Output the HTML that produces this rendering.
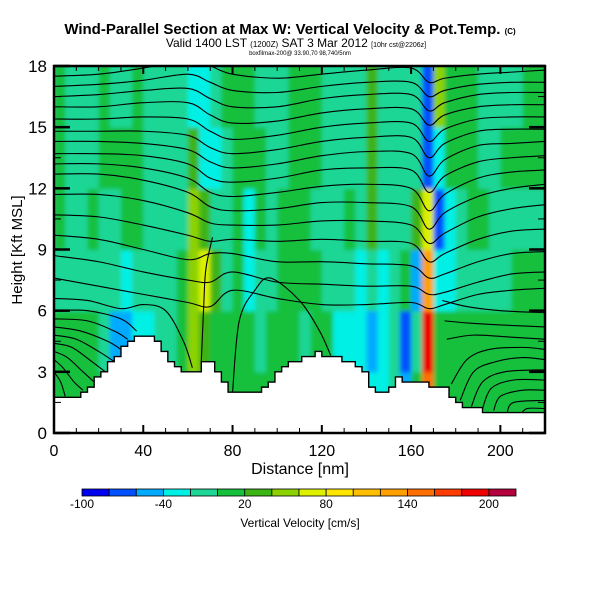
<!DOCTYPE html>
<html><head><meta charset="utf-8"><style>
body{margin:0;background:#fff;}
svg text{font-family:"Liberation Sans",sans-serif;}
</style></head><body>
<svg id="chart" width="600" height="600" viewBox="0 0 600 600" xmlns="http://www.w3.org/2000/svg">
<rect width="600" height="600" fill="#fff"/>
<text x="290" y="34" text-anchor="middle" font-size="15" font-weight="bold">Wind-Parallel Section at Max W: Vertical Velocity &amp; Pot.Temp. <tspan font-size="8">(C)</tspan></text>
<text x="296" y="47" text-anchor="middle" font-size="12">Valid 1400 LST <tspan font-size="8">(1200Z)</tspan> SAT 3 Mar 2012 <tspan font-size="7">[10hr cst@2206z]</tspan></text>
<text x="300" y="55" text-anchor="middle" font-size="6">boxfilmax-200@ 33.90,70 98,740/5nm</text>
<defs>
<clipPath id="plotclip"><rect x="54" y="66" width="491" height="367"/></clipPath>
<filter id="soft" x="-5%" y="-5%" width="110%" height="110%"><feGaussianBlur stdDeviation="2.2"/></filter>
</defs>
<g clip-path="url(#plotclip)"><rect x="54" y="66" width="491" height="367" fill="#1ed696"/><g id="field" filter="url(#soft)"></g></g>
<g id="contours" clip-path="url(#plotclip)"></g>
<g id="terrain" clip-path="url(#plotclip)"></g>
<g id="axes"></g>
<text x="300" y="474" text-anchor="middle" font-size="16">Distance [nm]</text>
<text transform="translate(22,250) rotate(-90)" text-anchor="middle" font-size="15">Height [Kft MSL]</text>
<g id="colorbar"></g>
<text x="300" y="527" text-anchor="middle" font-size="12">Vertical Velocity [cm/s]</text>
</svg>
<script>
// ---- data ----
const colX = [0,5,10,15,20,25,30,35,40,45,50,55,60,65,70,75,80,85,90,95,100,105,110,115,120,125,130,135,140,145,150,155,160,165,170,175,180,185,190,195,200,205,210,215];
const rowH = [0,3,6,9,12,15];
const wRow0 = [10,10,10,10,10,10,10,10,10,10,10,10,10,30,10,10,10,10,10,10,10,10,10,10,10,10,10,-30,-30,-30,-10,-50,10,150,10,10,10,10,10,10,10,10,10,10];
const wRow1 = [10,10,10,10,-10,-50,-50,-30,-30,-10,-10,10,50,30,10,10,10,10,-10,10,10,10,-10,10,10,-30,-30,-30,-50,-30,-10,-70,-10,190,10,10,10,10,10,10,10,10,10,10];
const wRow2 = [-10,-10,-10,-10,-10,-10,-30,-10,-10,-10,-10,10,50,70,30,-10,10,-30,-10,-10,10,10,10,10,-10,-10,-10,-30,-10,-30,-10,10,-50,130,-30,-30,-10,-10,-10,-10,-10,10,10,10];
const wRow3 = [10,-10,-10,10,-10,-10,10,10,-10,-10,-10,-10,50,30,-10,-10,10,-30,10,-10,10,10,10,-10,-10,-10,10,-10,30,-10,-10,-10,30,70,-70,-30,-10,10,10,-10,-10,-10,-10,-10];
const wRow4 = [10,-10,-10,-10,10,10,10,10,-10,-10,-10,-10,30,-30,-30,-10,10,10,10,-10,-10,10,10,10,-10,-10,-10,-10,30,-10,-10,-10,-10,-70,-30,10,10,10,-10,-10,10,10,10,10];
const wRow5 = [10,-10,-10,-10,10,-10,-10,10,-10,-10,-10,-10,-30,-30,-10,10,10,10,-10,-10,-10,10,10,10,-10,-10,-10,-10,30,-10,-10,-10,-10,-70,50,10,10,10,-10,-10,-10,-10,10,10];
const terrX = [0,13,37,43,58,64,67,71,80,92,106,119,129,138,144,150,155,159,174,181,188,209,220];
const terrH = [1.6,1.9,4.85,4.85,2.9,2.9,3.5,3.5,1.95,1.95,3.5,3.9,3.6,3.3,1.95,1.95,2.9,2.4,2.35,1.45,1.2,0.9,0.9];
const knotX = [0,20,40,60,70,80,100,120,140,160,168,175,190,205,220];
const thetaLines = [
[17.5,17.6,17.9,18.3,18.0,17.6,17.4,17.6,17.8,17.9,17.2,17.4,17.6,17.7,17.8],
[17.0,17.1,17.3,17.6,17.2,16.8,16.7,17.0,17.2,17.2,16.5,16.8,17.1,17.2,17.2],
[16.5,16.6,16.8,16.9,16.4,16.0,16.0,16.4,16.6,16.6,15.8,16.2,16.6,16.7,16.7],
[16.0,16.0,16.2,16.2,15.6,15.2,15.3,15.7,15.9,15.9,15.1,15.6,16.0,16.1,16.1],
[15.4,15.4,15.5,15.4,14.8,14.4,14.6,15.0,15.2,15.2,14.3,14.9,15.4,15.5,15.5],
[14.8,14.8,14.8,14.6,14.0,13.7,13.9,14.3,14.5,14.5,13.5,14.2,14.8,14.9,14.9],
[14.3,14.3,14.2,13.9,13.3,13.0,13.2,13.6,13.8,13.7,12.6,13.4,14.1,14.2,14.3],
[13.7,13.7,13.6,13.2,12.5,12.3,12.5,12.9,13.0,12.9,11.8,12.6,13.3,13.5,13.6],
[13.2,13.2,13.0,12.5,11.8,11.6,11.8,12.1,12.2,12.0,10.9,11.7,12.5,12.8,12.9],
[12.7,12.7,12.4,11.8,11.1,10.9,11.0,11.3,11.3,11.1,10.0,10.8,11.6,12.0,12.2],
[11.7,11.7,11.4,10.8,10.3,10.2,10.2,10.4,10.4,10.2,9.3,9.8,10.6,11.0,11.2],
[10.7,10.6,10.2,9.7,9.4,9.5,9.4,9.5,9.4,9.3,8.4,8.8,9.5,9.9,10.0],
[9.7,9.5,9.0,8.5,8.8,8.8,8.4,8.4,8.3,8.2,7.6,7.8,8.4,8.8,8.9],
[8.7,8.4,7.9,7.5,7.4,7.9,7.4,7.3,7.2,7.2,6.8,6.9,7.4,7.8,7.9],
[7.6,7.2,6.8,6.4,6.2,7.0,6.6,6.3,6.3,6.4,6.1,6.3,6.8,7.0,7.1]
];
const lowLines = [
[[0,6.6],[15,6.5],[30,6.1],[40,6.3],[50,6.0],[58,4.5],[62,3.2]],
[[0,6.0],[15,6.0],[30,5.6],[37,5.0]],
[[0,5.6],[15,5.5],[27,5.0],[33,4.6]],
[[0,5.2],[12,5.0],[24,4.5],[30,4.1]],
[[0,4.8],[10,4.6],[20,4.0],[27,3.5]],
[[0,4.4],[8,4.2],[17,3.5],[23,3.0]],
[[0,4.0],[6,3.7],[13,3.0],[18,2.5]],
[[0,3.6],[4,3.2],[9,2.5],[13,2.1]],
[[0,3.0],[3,2.5],[5,1.8]],
[[66,3.5],[67,6],[68,8],[71,9.6]],
[[80,2.0],[83,5.5],[90,7.0],[97,7.6],[110,6.5],[119,5.0],[124,3.8]],
[[174,6.5],[185,6.2],[200,6.0],[220,5.9]],
[[175,5.5],[185,5.4],[200,5.3],[220,5.2]],
[[176,4.6],[188,4.8],[205,4.7],[220,4.6]],
[[178,2.4],[185,3.6],[195,4.1],[210,4.2],[220,4.1]],
[[182,1.6],[188,3.0],[198,3.5],[210,3.7],[220,3.6]],
[[187,1.3],[192,2.5],[202,3.0],[220,3.1]],
[[192,1.2],[196,2.2],[206,2.6],[220,2.6]],
[[197,1.1],[200,1.8],[210,2.1],[220,2.1]],
[[203,1.0],[206,1.5],[220,1.6]],
[[209,0.9],[212,1.2],[220,1.2]]
];
const xTicks = [0,40,80,120,160,200];
const yTicks = [0,3,6,9,12,15,18];
const cbLevels = [-100,-80,-60,-40,-20,0,20,40,60,80,100,120,140,160,180,200,220];
const cbLabels = [-100,-40,20,80,140,200];
const palette = ["#0000f0","#0050ff","#00aaff","#00f0e6","#1ed696","#14c03c","#3cb414","#8cd200","#dcf000","#ffe600","#ffbe00","#ffa000","#ff6e00","#ff3c00","#f00000","#b4003c"];

// ---- scales ----
const NS="http://www.w3.org/2000/svg";
const X = v => 54 + v*(491/220);
const Y = h => 433 - h*(367/18);
function mk(tag, attrs, parent){const e=document.createElementNS(NS,tag);for(const k in attrs)e.setAttribute(k,attrs[k]);parent.appendChild(e);return e;}
function colorOf(w){let i=Math.floor((w-cbLevels[0])/20);i=Math.max(0,Math.min(15,i));return palette[i];}

// field
const field=document.getElementById('field');
const rows=[wRow0,wRow1,wRow2,wRow3,wRow4,wRow5];
rows.forEach((row,r)=>{row.forEach((w,c)=>{
  const x0=X(colX[c]), x1=X(colX[c]+5), y0=Y(rowH[r]+3), y1=Y(rowH[r]);
  const ext=(r===5)?8:0;
  const el=mk('rect',{x:x0,y:y0-ext,width:x1-x0+0.6,height:y1-y0+0.6+ext,fill:colorOf(w)},field);
  
  
});});

// contours
function smooth(pts){let d=`M${pts[0][0]},${pts[0][1]}`;for(let i=0;i<pts.length-1;i++){const p0=pts[i-1]||pts[i],p1=pts[i],p2=pts[i+1],p3=pts[i+2]||p2;
 const c1=[p1[0]+(p2[0]-p0[0])/6,p1[1]+(p2[1]-p0[1])/6],c2=[p2[0]-(p3[0]-p1[0])/6,p2[1]-(p3[1]-p1[1])/6];
 d+=`C${c1[0]},${c1[1]} ${c2[0]},${c2[1]} ${p2[0]},${p2[1]}`;}return d;}
const cg=document.getElementById('contours');
thetaLines.forEach(line=>{
  const pts=line.map((h,i)=>[X(knotX[i]),Y(h)]);
  const el=mk('path',{d:smooth(pts),fill:'none',stroke:'#000','stroke-width':1.1},cg);
  
  
});
lowLines.forEach(line=>{
  const pts=line.map(p=>[X(p[0]),Y(p[1])]);
  const el=mk('path',{d:smooth(pts),fill:'none',stroke:'#000','stroke-width':1.1},cg);
  
  
});

// terrain (staircase)
function terr(x){for(let i=0;i<terrX.length-1;i++){if(x<=terrX[i+1]){const t=(x-terrX[i])/(terrX[i+1]-terrX[i]);return terrH[i]+t*(terrH[i+1]-terrH[i]);}}return terrH[terrH.length-1];}
let td=`M${X(0)},${Y(0)}`;let ld='';
for(let x=0;x<220;x+=3){const h=Math.round(terr(x+1.5)/0.25)*0.25;
 td+=`L${X(x)},${Y(h)}L${X(Math.min(220,x+3))},${Y(h)}`;
 ld+=(x===0?'M':'L')+`${X(x)},${Y(h)}L${X(Math.min(220,x+3))},${Y(h)}`;}
td+=`L${X(220)},${Y(0)}Z`;
const tg=document.getElementById('terrain');
const tp=mk('path',{d:td,fill:'#fff',stroke:'none'},tg);


const tl=mk('path',{d:ld,fill:'none',stroke:'#000','stroke-width':1.4},tg);



// axes
const ax=document.getElementById('axes');
const frame=mk('rect',{x:54,y:66,width:491,height:367,fill:'none',stroke:'#000','stroke-width':2.5},ax);


for(let v=0;v<=220;v+=10){const maj=v%40===0;const L=maj?8:5;
 mk('line',{x1:X(v),x2:X(v),y1:433,y2:433-L,stroke:'#000','stroke-width':maj?2:1},ax);
 mk('line',{x1:X(v),x2:X(v),y1:66,y2:66+L,stroke:'#000','stroke-width':maj?2:1},ax);}
for(let h=0;h<=18;h+=1.5){const maj=h%3===0;const L=maj?16:7;
 mk('line',{x1:54,x2:54+L,y1:Y(h),y2:Y(h),stroke:'#000','stroke-width':maj?2.5:1},ax);
 mk('line',{x1:545,x2:545-L,y1:Y(h),y2:Y(h),stroke:'#000','stroke-width':maj?2.5:1},ax);}
xTicks.forEach(v=>{const t=mk('text',{x:X(v),y:456,'text-anchor':'middle','font-size':16},ax);t.textContent=v;
 
 });
yTicks.forEach(v=>{const t=mk('text',{x:47,y:Y(v)+6,'text-anchor':'end','font-size':17},ax);t.textContent=v;
 
 });

// colorbar
const cb=document.getElementById('colorbar');
const cbX=v=>82+(v+100)*(434/320);
for(let i=0;i<16;i++){const r=mk('rect',{x:cbX(cbLevels[i]),y:489,width:cbX(cbLevels[i+1])-cbX(cbLevels[i]),height:7,fill:palette[i],stroke:'#000','stroke-width':0.8},cb);
 
 }
cbLabels.forEach(v=>{const t=mk('text',{x:cbX(v),y:508,'text-anchor':'middle','font-size':12},cb);t.textContent=v;
 
 });
</script>
</body></html>
